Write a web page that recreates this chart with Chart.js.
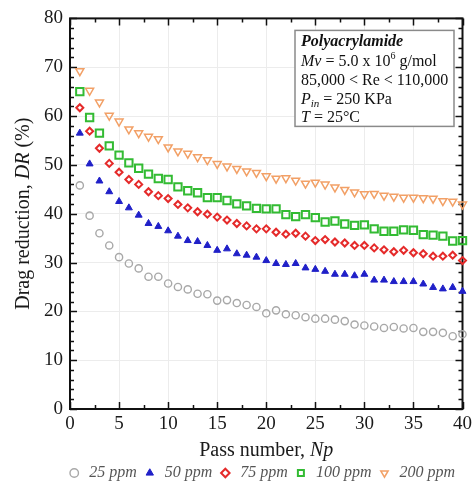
<!DOCTYPE html>
<html>
<head>
<meta charset="utf-8">
<script src="https://cdn.jsdelivr.net/npm/chart.js@4.4.0/dist/chart.umd.min.js"></script>
<style>
  html, body { margin: 0; padding: 0; background: #fff; }
  #wrap { width: 476px; height: 491px; }
</style>
</head>
<body>
<div id="wrap"><canvas id="chart" width="476" height="491"></canvas></div>
<script>
const passNumbers = [1, 2, 3, 4, 5, 6, 7, 8, 9, 10, 11, 12, 13, 14, 15, 16, 17, 18, 19, 20,
                     21, 22, 23, 24, 25, 26, 27, 28, 29, 30, 31, 32, 33, 34, 35, 36, 37, 38, 39, 40];

const dr25 = [45.8, 39.6, 36.0, 33.5, 31.1, 29.8, 28.8, 27.1, 27.1, 25.7, 25.0, 24.5, 23.6, 23.5, 22.2, 22.3, 21.7, 21.3, 20.9, 19.6,
              20.2, 19.4, 19.2, 18.8, 18.5, 18.5, 18.3, 18.0, 17.3, 17.1, 16.9, 16.6, 16.8, 16.5, 16.6, 15.8, 15.8, 15.6, 14.9, 15.3];
const dr50 = [56.5, 50.2, 46.7, 44.5, 42.5, 41.2, 39.7, 38.0, 37.4, 36.5, 35.4, 34.5, 34.3, 33.5, 32.5, 32.8, 31.8, 31.5, 31.1, 30.4,
              29.8, 29.6, 29.8, 28.9, 28.6, 28.2, 27.6, 27.6, 27.3, 27.6, 26.4, 26.4, 26.1, 26.1, 26.1, 25.6, 24.9, 24.6, 24.9, 24.1];
const dr75 = [61.7, 56.9, 53.4, 50.3, 48.5, 47.0, 46.0, 44.5, 43.7, 43.1, 41.9, 41.2, 40.4, 39.9, 39.3, 38.7, 38.0, 37.5, 36.9, 36.9,
              36.2, 35.8, 36.0, 35.4, 34.5, 34.7, 34.2, 34.0, 33.5, 33.5, 33.0, 32.6, 32.2, 32.5, 32.0, 31.8, 31.3, 31.3, 31.5, 30.4];
const dr100 = [65.0, 59.7, 56.5, 53.9, 52.0, 50.4, 49.3, 48.1, 47.2, 47.0, 45.5, 44.7, 44.3, 43.3, 43.3, 42.7, 42.0, 41.6, 41.1, 41.0,
               41.0, 39.8, 39.4, 39.8, 39.2, 38.3, 38.5, 37.9, 37.6, 37.7, 36.9, 36.4, 36.4, 36.7, 36.6, 35.7, 35.6, 35.4, 34.4, 34.5];
const dr200 = [69.2, 65.2, 62.8, 60.1, 58.9, 57.3, 56.5, 55.8, 55.3, 53.6, 52.8, 52.3, 51.6, 51.0, 50.2, 49.7, 49.2, 48.7, 48.4, 47.7,
               47.2, 47.3, 46.8, 46.2, 46.4, 46.0, 45.4, 44.9, 44.4, 44.0, 44.1, 43.7, 43.5, 43.3, 43.3, 43.2, 43.1, 42.6, 42.5, 41.9];

const seriesLabels = ['25 ppm', '50 ppm', '75 ppm', '100 ppm', '200 ppm'];
const xTicks = [0, 5, 10, 15, 20, 25, 30, 35, 40];
const yTicks = [0, 10, 20, 30, 40, 50, 60, 70, 80];

const SERIF = "'Liberation Serif', 'DejaVu Serif', serif";

function pts(values) {
    return passNumbers.map((n, i) => ({ x: n, y: values[i] }));
}

// text made of pieces with different fonts (italic, sub/superscripts)
function runsWidth(ctx, runs) {
    let w = 0;
    runs.forEach(r => { ctx.font = r.font; w += ctx.measureText(r.t).width; });
    return w;
}
function drawRuns(ctx, runs, x, y) {
    runs.forEach(r => {
        ctx.font = r.font;
        ctx.fillText(r.t, x, y + (r.dy || 0));
        x += ctx.measureText(r.t).width;
    });
}

const frameTicks = {
    id: 'frameTicks',
    afterLayout(chart) {
        // nudge the legend row a little to the left, as in the original
        chart.legend.left -= 4;
        chart.legend.right -= 4;
    },
    beforeDatasetsDraw(chart) {
        const { ctx, chartArea: a, scales: { x, y } } = chart;
        ctx.save();
        ctx.strokeStyle = '#111';
        ctx.lineWidth = 1.5;
        ctx.beginPath();
        for (let v = xTicks[0]; v <= xTicks[xTicks.length - 1]; v += 2.5) {
            const px = Math.round(x.getPixelForValue(v)) + 0.5;
            const len = v % 5 === 0 ? 7 : 4;
            ctx.moveTo(px, a.bottom); ctx.lineTo(px, a.bottom - len);
            ctx.moveTo(px, a.top); ctx.lineTo(px, a.top + len);
        }
        for (let v = yTicks[0]; v <= yTicks[yTicks.length - 1]; v += 2) {
            const py = Math.round(y.getPixelForValue(v)) + 0.5;
            const len = v % 10 === 0 ? 7 : 4;
            ctx.moveTo(a.left, py); ctx.lineTo(a.left + len, py);
            ctx.moveTo(a.right, py); ctx.lineTo(a.right - len, py);
        }
        ctx.stroke();
        ctx.lineWidth = 2;
        ctx.strokeRect(a.left, a.top, a.right - a.left, a.bottom - a.top);

        // info box
        const bx = a.left + 225, by = a.top + 12, bw = 159, bh = 96;
        ctx.fillStyle = '#fff';
        ctx.fillRect(bx, by, bw, bh);
        ctx.strokeStyle = '#8a8a8a';
        ctx.lineWidth = 1.5;
        ctx.strokeRect(bx, by, bw, bh);
        ctx.fillStyle = '#111';
        ctx.textBaseline = 'alphabetic';
        ctx.textAlign = 'left';
        const f = '16px ' + SERIF, fi = 'italic 16px ' + SERIF;
        const tx = bx + 6;
        drawRuns(ctx, [{ t: 'Polyacrylamide', font: 'italic bold 16px ' + SERIF }], tx, by + 16);
        drawRuns(ctx, [
            { t: 'Mv', font: fi }, { t: ' = 5.0 x 10', font: f },
            { t: '6', font: '10px ' + SERIF, dy: -7 }, { t: ' g/mol', font: f }
        ], tx, by + 35.5);
        drawRuns(ctx, [{ t: '85,000 < Re < 110,000', font: f }], tx, by + 54.5);
        drawRuns(ctx, [
            { t: 'P', font: fi }, { t: 'in', font: 'italic 11px ' + SERIF, dy: 3 },
            { t: ' = 250 KPa', font: f }
        ], tx, by + 73.5);
        drawRuns(ctx, [
            { t: 'T', font: fi }, { t: ' = 25°C', font: f }
        ], tx, by + 92);
        ctx.restore();
    },
    afterDraw(chart) {
        const { ctx, chartArea: a } = chart;
        ctx.save();
        ctx.fillStyle = '#1a1a1a';
        ctx.textBaseline = 'alphabetic';
        ctx.textAlign = 'left';
        const f = '20px ' + SERIF, fi = 'italic 20px ' + SERIF;

        const xr = [{ t: 'Pass number, ', font: f }, { t: 'Np', font: fi }];
        const xw = runsWidth(ctx, xr);
        drawRuns(ctx, xr, (a.left + a.right) / 2 - xw / 2, 456);

        const yr = [{ t: 'Drag reduction, ', font: f }, { t: 'DR', font: fi }, { t: ' (%)', font: f }];
        const yw = runsWidth(ctx, yr);
        ctx.translate(29, (a.top + a.bottom) / 2);
        ctx.rotate(-Math.PI / 2);
        drawRuns(ctx, yr, -yw / 2, 0);
        ctx.restore();
    }
};

const markerBase = { showLine: false, clip: false, backgroundColor: 'rgba(0,0,0,0)' };

new Chart(document.getElementById('chart'), {
    type: 'scatter',
    data: {
        datasets: [
            { ...markerBase, label: seriesLabels[0], data: pts(dr25), pointStyle: 'circle', pointRadius: 3.6,
              borderColor: '#a8a8a8', borderWidth: 1.4 },
            { ...markerBase, label: seriesLabels[1], data: pts(dr50), pointStyle: 'triangle', pointRadius: 4,
              borderColor: '#2020c8', backgroundColor: '#2020c8', borderWidth: 1 },
            { ...markerBase, label: seriesLabels[2], data: pts(dr75), pointStyle: 'rectRot', pointRadius: 3.5,
              borderColor: '#e52a2a', borderWidth: 2 },
            { ...markerBase, label: seriesLabels[3], data: pts(dr100), pointStyle: 'rect', pointRadius: 5.2,
              borderColor: '#33bb33', borderWidth: 2 },
            { ...markerBase, label: seriesLabels[4], data: pts(dr200), pointStyle: 'triangle', rotation: 180, pointRadius: 4.6,
              borderColor: '#f2a066', borderWidth: 1.5 }
        ]
    },
    options: {
        responsive: false,
        animation: false,
        layout: { padding: { left: 30, right: 11, top: 18, bottom: 0 } },
        plugins: {
            tooltip: { enabled: false },
            legend: {
                position: 'bottom',
                align: 'end',
                labels: {
                    usePointStyle: true,
                    boxWidth: 14,
                    boxHeight: 6,
                    padding: 6,
                    color: '#555',
                    font: { family: SERIF, size: 16, style: 'italic' }
                }
            }
        },
        scales: {
            x: {
                type: 'linear',
                min: xTicks[0],
                max: xTicks[xTicks.length - 1],
                afterFit(scale) { scale.height = 50; },
                afterBuildTicks(scale) { scale.ticks = xTicks.map(v => ({ value: v })); },
                grid: { color: '#ececec', lineWidth: 1, drawTicks: false },
                border: { display: false },
                ticks: { padding: 4, maxRotation: 0, color: '#1a1a1a', font: { family: SERIF, size: 19 } }
            },
            y: {
                min: yTicks[0],
                max: yTicks[yTicks.length - 1],
                afterFit(scale) { scale.width = 40; },
                afterBuildTicks(scale) { scale.ticks = yTicks.map(v => ({ value: v })); },
                grid: { color: '#ececec', lineWidth: 1, drawTicks: false },
                border: { display: false },
                ticks: { padding: 7, color: '#1a1a1a', font: { family: SERIF, size: 19 } }
            }
        }
    },
    plugins: [frameTicks]
});
</script>
</body>
</html>
